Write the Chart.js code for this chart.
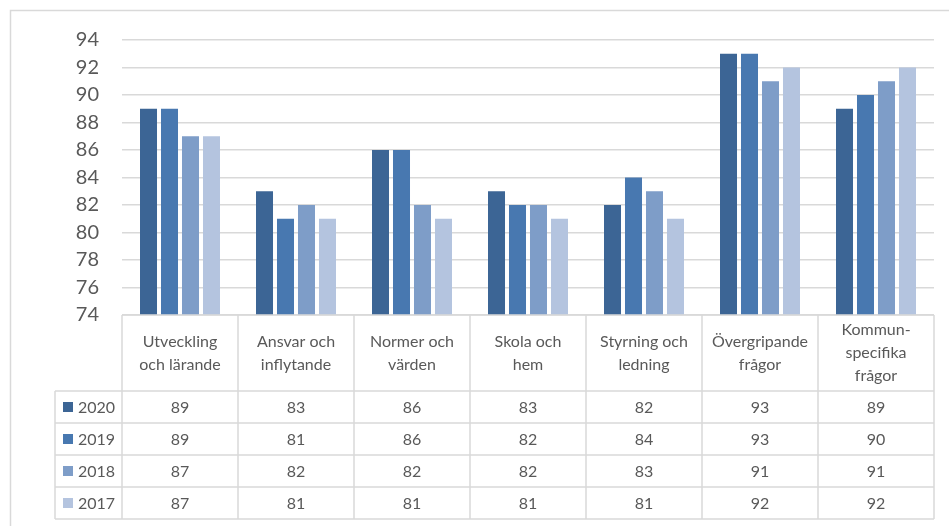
<!DOCTYPE html>
<html>
<head>
<meta charset="utf-8">
<script src="https://cdn.jsdelivr.net/npm/chart.js@4/dist/chart.umd.min.js"></script>
<style>
  html, body { margin: 0; padding: 0; background: #fff; }
  #wrap { width: 949px; height: 526px; }
</style>
</head>
<body>
<div id="wrap"><canvas id="chart" width="949" height="526"></canvas></div>
<script>
// categories (multi-line like in the table header)
const categories = [
  ['Utveckling', 'och lärande'],
  ['Ansvar och', 'inflytande'],
  ['Normer och', 'värden'],
  ['Skola och', 'hem'],
  ['Styrning och', 'ledning'],
  ['Övergripande', 'frågor'],
  ['Kommun-', 'specifika', 'frågor']
];
const years = ['2020', '2019', '2018', '2017'];
const v2020 = [89, 83, 86, 83, 82, 93, 89];
const v2019 = [89, 81, 86, 82, 84, 93, 90];
const v2018 = [87, 82, 82, 82, 83, 91, 91];
const v2017 = [87, 81, 81, 81, 81, 92, 92];
const yTicks = [74, 76, 78, 80, 82, 84, 86, 88, 90, 92, 94];

const colors = ['#3C6595', '#4878B0', '#7E9DC8', '#B4C4DF'];
const series = [v2020, v2019, v2018, v2017];
const FONT = 'Lato, "Open Sans", sans-serif';
const TXT = '#595959';
const LINE = '#D9D9D9';

// tableau sous le graph (data table style Excel)
const tablePlugin = {
  id: 'dataTable',
  afterDraw(chart) {
    const c = chart.ctx;
    const x = chart.scales.x;
    const area = chart.chartArea;
    const colW = (area.right - area.left) / categories.length;
    const top = area.bottom;
    const headH = 76;
    const rowH = 32;
    const legL = 55;
    const bottom = top + headH + rowH * years.length;

    c.save();
    // cadre exterieur
    c.strokeStyle = LINE;
    c.lineWidth = 1.5;
    c.strokeRect(10.5, 10.5, 960, 540);

    c.lineWidth = 1.5;
    c.beginPath();
    // ligne du haut (axe)
    c.moveTo(area.left, top); c.lineTo(area.right, top);
    // lignes horizontales des rangées
    for (let r = 0; r <= years.length; r++) {
      const y = top + headH + r * rowH;
      c.moveTo(legL, y); c.lineTo(area.right, y);
    }
    // lignes verticales
    for (let i = 0; i <= categories.length; i++) {
      const xx = area.left + i * colW;
      c.moveTo(xx, top); c.lineTo(xx, bottom);
    }
    c.moveTo(legL, top + headH); c.lineTo(legL, bottom);
    c.stroke();

    c.fillStyle = TXT;
    c.textAlign = 'center';
    c.textBaseline = 'middle';
    c.font = '16px ' + FONT;
    const lh = 23;
    categories.forEach((lab, i) => {
      const cx = x.getPixelForValue(i);
      const cy = top + headH / 2;
      lab.forEach((ln, k) => {
        c.fillText(ln, cx, cy + (k - (lab.length - 1) / 2) * lh);
      });
    });

    years.forEach((yr, r) => {
      const cy = top + headH + r * rowH + rowH / 2;
      c.fillStyle = colors[r];
      c.fillRect(63, cy - 5, 10, 10);
      c.fillStyle = TXT;
      c.textAlign = 'left';
      c.fillText(yr, 78, cy + 1);
      c.textAlign = 'center';
      series[r].forEach((v, i) => {
        c.fillText(String(v), x.getPixelForValue(i), cy + 1);
      });
    });
    c.restore();
  }
};

const ctx = document.getElementById('chart').getContext('2d');
const chart = new Chart(ctx, {
  type: 'bar',
  data: {
    labels: categories,
    datasets: years.map((yr, i) => ({
      label: yr,
      data: series[i],
      backgroundColor: colors[i],
      categoryPercentage: 0.724,
      barPercentage: 0.81
    }))
  },
  options: {
    responsive: false,
    animation: false,
    layout: { padding: { top: 40, right: 15, bottom: 211, left: 0 } },
    plugins: { legend: { display: false }, tooltip: { enabled: false } },
    scales: {
      x: { display: false },
      y: {
        min: 74,
        max: 94,
        afterFit(scale) { scale.width = 122; },
        afterBuildTicks(scale) { scale.ticks = yTicks.map(v => ({ value: v })); },
        border: { display: false },
        grid: { color: LINE, lineWidth: 1.5, drawTicks: false },
        ticks: { color: TXT, padding: 23, font: { family: FONT, size: 20 } }
      }
    }
  },
  plugins: [tablePlugin]
});
</script>
</body>
</html>
